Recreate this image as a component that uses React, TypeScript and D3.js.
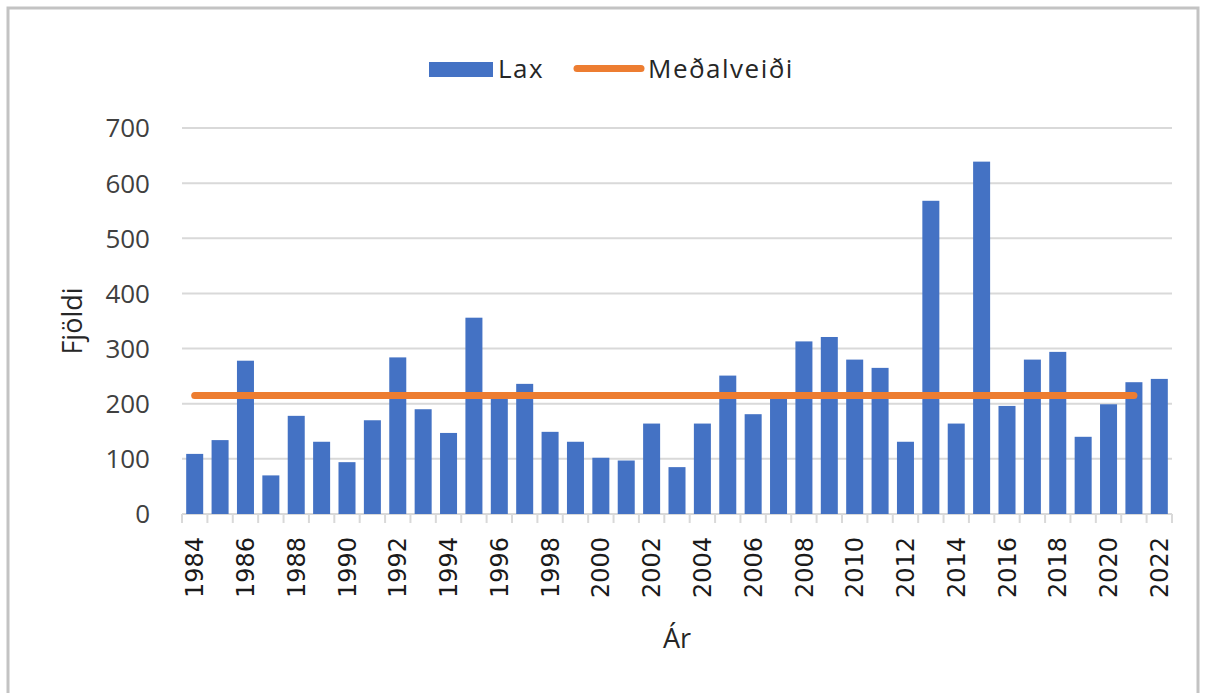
import React, { useRef, useEffect } from 'react';
import * as d3 from 'd3';

// Laxveiði per year
const years: number[] = [
  1984, 1985, 1986, 1987, 1988, 1989, 1990, 1991, 1992, 1993,
  1994, 1995, 1996, 1997, 1998, 1999, 2000, 2001, 2002, 2003,
  2004, 2005, 2006, 2007, 2008, 2009, 2010, 2011, 2012, 2013,
  2014, 2015, 2016, 2017, 2018, 2019, 2020, 2021, 2022,
];
const laxCatch: number[] = [
  109, 134, 278, 70, 178, 131, 94, 170, 284, 190,
  147, 356, 212, 236, 149, 131, 102, 97, 164, 85,
  164, 251, 181, 210, 313, 321, 280, 265, 131, 568,
  164, 639, 196, 280, 294, 140, 199, 239, 245,
];
// Meðalveiði: average catch, drawn from first to last year of the period
const meanCatch = 215;
const meanPeriod: number[] = [1984, 2021];
const yTicks: number[] = [0, 100, 200, 300, 400, 500, 600, 700];

const W = 1206;
const H = 693;

export default function App() {
  const svgRef = useRef<SVGSVGElement>(null);

  useEffect(() => {
    if (!svgRef.current) return;
    const svg = d3.select(svgRef.current);
    svg.selectAll('*').remove();

    const margin = { top: 128, right: 34, bottom: 179, left: 182 };
    const sans = "'Open Sans', sans-serif";

    const x = d3.scaleBand<number>()
      .domain(years)
      .range([margin.left, W - margin.right])
      .paddingInner(0.33)
      .paddingOuter(0.165);
    const y = d3.scaleLinear()
      .domain([0, 700])
      .range([H - margin.bottom, margin.top]);

    // outer frame
    svg.append('rect')
      .attr('x', 8).attr('y', 8)
      .attr('width', W - 16).attr('height', H + 20)
      .attr('fill', 'white')
      .attr('stroke', '#c3c3c3')
      .attr('stroke-width', 3);

    // gridlines
    svg.append('g')
      .selectAll('line')
      .data(yTicks)
      .join('line')
      .attr('x1', margin.left)
      .attr('x2', W - margin.right)
      .attr('y1', d => y(d))
      .attr('y2', d => y(d))
      .attr('stroke', '#d9d9d9')
      .attr('stroke-width', 2);

    // category tick marks at band boundaries
    const step = x.step();
    svg.append('g')
      .selectAll('line')
      .data(d3.range(years.length + 1))
      .join('line')
      .attr('x1', i => margin.left + i * step)
      .attr('x2', i => margin.left + i * step)
      .attr('y1', y(0))
      .attr('y2', y(0) + 9)
      .attr('stroke', '#d9d9d9')
      .attr('stroke-width', 2);

    // y labels
    svg.append('g')
      .selectAll('text')
      .data(yTicks)
      .join('text')
      .attr('x', 150)
      .attr('y', d => y(d))
      .attr('dy', '0.36em')
      .attr('text-anchor', 'end')
      .attr('font-family', sans)
      .attr('font-size', 26)
      .attr('fill', '#404040')
      .text(d => d);

    // x labels, every second year
    svg.append('g')
      .selectAll('text')
      .data(years.filter((_, i) => i % 2 === 0))
      .join('text')
      .attr('transform', d => `translate(${x(d)! + x.bandwidth() / 2}, 537) rotate(-90)`)
      .attr('dy', '0.36em')
      .attr('text-anchor', 'end')
      .attr('font-family', "'DejaVu Sans', sans-serif")
      .attr('font-size', 24)
      .attr('fill', '#1a1a1a')
      .text(d => d);

    // bars
    svg.append('g')
      .selectAll('rect')
      .data(years)
      .join('rect')
      .attr('x', d => x(d)!)
      .attr('width', x.bandwidth())
      .attr('y', (_, i) => y(laxCatch[i]))
      .attr('height', (_, i) => y(0) - y(laxCatch[i]))
      .attr('fill', '#4472C4');

    // mean line
    const meanPts = years.filter(yr => yr >= meanPeriod[0] && yr <= meanPeriod[1]);
    const line = d3.line<number>()
      .x(d => x(d)! + x.bandwidth() / 2)
      .y(() => y(meanCatch));
    svg.append('path')
      .attr('d', line(meanPts))
      .attr('fill', 'none')
      .attr('stroke', '#ED7D31')
      .attr('stroke-width', 7)
      .attr('stroke-linecap', 'round');

    // axis titles
    svg.append('text')
      .attr('transform', `translate(72, ${(y(0) + y(700)) / 2}) rotate(-90)`)
      .attr('dy', '0.36em')
      .attr('text-anchor', 'middle')
      .attr('font-family', sans)
      .attr('font-size', 27)
      .attr('fill', '#262626')
      .text('Fjöldi');

    svg.append('text')
      .attr('x', (margin.left + W - margin.right) / 2)
      .attr('y', 648)
      .attr('text-anchor', 'middle')
      .attr('font-family', sans)
      .attr('font-size', 27)
      .attr('fill', '#262626')
      .text('Ár');

    // legend
    const legend = svg.append('g');
    legend.append('rect')
      .attr('x', 429).attr('y', 62)
      .attr('width', 64).attr('height', 15)
      .attr('fill', '#4472C4');
    legend.append('text')
      .attr('x', 498).attr('y', 78)
      .attr('font-family', sans)
      .attr('font-size', 26)
      .attr('letter-spacing', 1.5)
      .attr('fill', '#262626')
      .text('Lax');
    legend.append('line')
      .attr('x1', 577).attr('x2', 641)
      .attr('y1', 68.5).attr('y2', 68.5)
      .attr('stroke', '#ED7D31')
      .attr('stroke-width', 7)
      .attr('stroke-linecap', 'round');
    legend.append('text')
      .attr('x', 648).attr('y', 78)
      .attr('font-family', sans)
      .attr('font-size', 26)
      .attr('letter-spacing', 1.5)
      .attr('fill', '#262626')
      .text('Meðalveiði');
  }, []);

  return (
    <svg
      ref={svgRef}
      width={W}
      height={H}
      style={{ position: 'absolute', left: 0, top: 0, background: 'white' }}
    />
  );
}
